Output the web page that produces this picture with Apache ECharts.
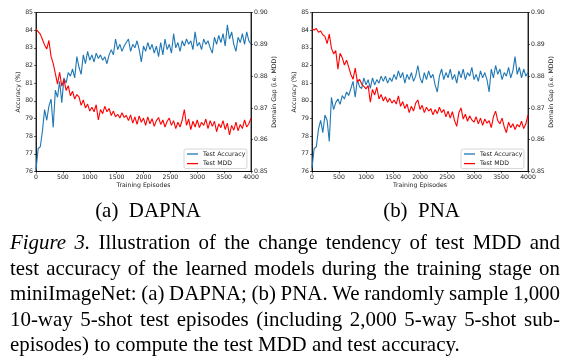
<!DOCTYPE html>
<html><head><meta charset="utf-8">
<script src="https://cdn.jsdelivr.net/npm/echarts@6/dist/echarts.min.js"></script>
<style>html,body{margin:0;padding:0;background:#fff}#c{width:568px;height:364px}</style>
</head><body><div id="c"></div>
<script>
// ---- data (one value every 40 training episodes, 0..4000) ----
const episodeStep = 40;
const dapnaAccuracy = [76.1,77.3,77.4,78.3,79.5,78.9,79.7,80.1,78.5,80.6,80.2,81.1,79.9,81.3,81.0,81.6,81.4,81.8,81.3,82.5,81.9,81.5,82.6,82.1,82.8,82.3,82.6,82.2,82.7,82.4,82.6,82.3,82.5,82.1,82.6,82.9,82.6,83.5,82.9,83.2,82.8,83.1,83.3,83.5,82.8,83.2,83.0,83.4,82.9,82.2,83.1,82.8,83.3,82.9,83.2,82.7,83.1,82.5,83.3,82.6,83.5,82.9,83.2,82.7,83.8,83.0,83.3,82.8,83.4,83.1,83.5,83.2,83.4,82.9,83.9,83.1,83.3,82.9,83.5,83.2,83.4,83.0,82.7,83.6,83.2,83.7,83.3,83.8,83.1,84.3,83.5,83.9,83.2,82.8,83.6,83.3,83.8,83.2,83.9,83.4,83.2];
const dapnaMDD = [0.8948,0.8940,0.8932,0.8915,0.8898,0.8885,0.8912,0.8862,0.8840,0.8808,0.8775,0.8812,0.8768,0.8790,0.8755,0.8770,0.8738,0.8752,0.8728,0.8742,0.8735,0.8708,0.8725,0.8700,0.8712,0.8690,0.8702,0.8688,0.8710,0.8662,0.8695,0.8682,0.8705,0.8688,0.8698,0.8676,0.8690,0.8672,0.8680,0.8668,0.8685,0.8670,0.8676,0.8660,0.8678,0.8652,0.8672,0.8648,0.8675,0.8655,0.8668,0.8645,0.8672,0.8650,0.8666,0.8642,0.8660,0.8670,0.8648,0.8662,0.8640,0.8658,0.8668,0.8645,0.8660,0.8635,0.8655,0.8640,0.8662,0.8695,0.8645,0.8665,0.8632,0.8658,0.8640,0.8662,0.8638,0.8655,0.8645,0.8665,0.8635,0.8660,0.8642,0.8658,0.8625,0.8650,0.8638,0.8660,0.8632,0.8652,0.8615,0.8645,0.8630,0.8655,0.8628,0.8648,0.8635,0.8662,0.8640,0.8650,0.8668];
const pnaAccuracy = [76.2,77.3,77.4,78.4,78.9,78.2,79.2,78.9,77.7,80.2,79.5,79.9,80.1,79.8,80.3,80.1,80.5,80.3,80.7,81.1,80.2,81.2,80.8,80.7,81.3,80.9,81.2,80.7,81.3,80.9,81.2,81.0,81.4,81.1,81.4,81.0,81.3,81.1,81.5,81.2,81.7,81.3,81.6,81.0,81.5,81.2,81.6,81.1,81.4,82.0,81.3,81.0,81.6,81.2,81.7,81.3,81.5,80.9,80.5,81.4,81.8,81.2,81.6,81.3,81.8,81.2,81.5,81.0,81.7,81.3,81.8,81.2,81.6,81.4,81.9,81.2,81.5,81.1,81.7,81.3,81.6,81.2,80.5,81.8,81.3,82.0,81.5,81.8,81.2,81.6,81.4,81.9,81.3,81.7,82.5,81.5,81.9,81.3,81.8,81.4,81.6];
const pnaMDD = [0.8948,0.8945,0.8950,0.8938,0.8942,0.8930,0.8925,0.8902,0.8932,0.8888,0.8870,0.8880,0.8822,0.8872,0.8858,0.8835,0.8850,0.8828,0.8805,0.8790,0.8825,0.8782,0.8790,0.8775,0.8768,0.8760,0.8770,0.8718,0.8758,0.8740,0.8765,0.8728,0.8742,0.8722,0.8735,0.8718,0.8730,0.8715,0.8725,0.8712,0.8738,0.8705,0.8720,0.8698,0.8712,0.8685,0.8705,0.8690,0.8715,0.8725,0.8695,0.8708,0.8685,0.8702,0.8690,0.8698,0.8678,0.8695,0.8682,0.8702,0.8685,0.8695,0.8672,0.8690,0.8668,0.8688,0.8660,0.8642,0.8685,0.8700,0.8665,0.8680,0.8658,0.8675,0.8662,0.8655,0.8672,0.8650,0.8668,0.8645,0.8665,0.8652,0.8660,0.8638,0.8672,0.8690,0.8660,0.8650,0.8668,0.8640,0.8622,0.8655,0.8638,0.8650,0.8632,0.8648,0.8640,0.8658,0.8635,0.8650,0.8678];
const seriesNames = ['Test Accuracy', 'Test MDD'];
const subCaptions = ['(a)  DAPNA', '(b)  PNA'];
const xAxisTitle = 'Training Episodes';
const leftAxisTitle = 'Accuracy (%)';
const rightAxisTitle = 'Domain Gap (i.e. MDD)';
const captionLines = [
  'Figure 3. Illustration of the change tendency of test MDD and',
  'test accuracy of the learned models during the training stage on',
  'miniImageNet: (a) DAPNA; (b) PNA. We randomly sample 1,000',
  '10-way 5-shot test episodes (including 2,000 5-way 5-shot sub-',
  'episodes) to compute the test MDD and test accuracy.'
];

// ---- build ----
const toPairs = arr => arr.map((v, i) => [i * episodeStep, v]);
const BLUE = '#1f77b4', RED = '#ff0000';
const SANS = 'DejaVu Sans', SERIF = 'Liberation Serif';
const FS = 6.2;
const grids = [
  {left: 36, top: 12.5, width: 215, height: 159},
  {left: 312, top: 12.5, width: 216, height: 159}
];
const axisText = {fontSize: FS, fontFamily: SANS, color: '#222'};
const xAxes = [], yAxes = [], series = [], legends = [];
const legendLeft = [184, 461];
[[dapnaAccuracy, dapnaMDD], [pnaAccuracy, pnaMDD]].forEach((d, g) => {
  xAxes.push({
    gridIndex: g, type: 'value', min: 0, max: 4000, interval: 500,
    axisLine: {show: true, onZero: false, lineStyle: {color: '#000', width: 0.8}},
    axisTick: {show: true, length: 2, lineStyle: {color: '#000', width: 0.6}},
    axisLabel: Object.assign({margin: 3, formatter: v => String(v)}, axisText),
    splitLine: {show: false},
    name: xAxisTitle, nameLocation: 'middle', nameGap: 10.5, nameTextStyle: axisText
  });
  yAxes.push({
    gridIndex: g, type: 'value', min: 76, max: 85, interval: 1, position: 'left',
    axisLine: {show: true, onZero: false, lineStyle: {color: '#000', width: 0.8}},
    axisTick: {show: true, length: 2, lineStyle: {color: '#000', width: 0.6}},
    axisLabel: Object.assign({margin: 3, formatter: v => String(v)}, axisText),
    splitLine: {show: false},
    name: leftAxisTitle, nameLocation: 'middle', nameGap: g === 0 ? 14.5 : 13.5, nameRotate: 90, nameTextStyle: axisText
  });
  yAxes.push({
    gridIndex: g, type: 'value', min: 0.85, max: 0.90, interval: 0.01, position: 'right',
    axisLine: {show: true, onZero: false, lineStyle: {color: '#000', width: 0.8}},
    axisTick: {show: true, length: 2, lineStyle: {color: '#000', width: 0.6}},
    axisLabel: Object.assign({margin: 3, formatter: v => v.toFixed(2)}, axisText),
    splitLine: {show: false},
    name: rightAxisTitle, nameLocation: 'middle', nameGap: 19.5, nameRotate: 90, nameTextStyle: axisText
  });
  series.push({
    name: seriesNames[0], type: 'line', xAxisIndex: g, yAxisIndex: g * 2,
    data: toPairs(d[0]), showSymbol: false, symbol: 'none',
    lineStyle: {color: BLUE, width: 1.1}, itemStyle: {color: BLUE}, z: 2
  });
  series.push({
    name: seriesNames[1], type: 'line', xAxisIndex: g, yAxisIndex: g * 2 + 1,
    data: toPairs(d[1]), showSymbol: false, symbol: 'none',
    lineStyle: {color: RED, width: 1.1}, itemStyle: {color: RED}, z: 3
  });
  legends.push({
    data: seriesNames, orient: 'vertical', left: legendLeft[g], top: 149,
    icon: 'rect', itemWidth: 11, itemHeight: 1.3, itemGap: 2.6,
    padding: [1.5, 1.5, 1.5, 3], borderColor: '#ccc', borderWidth: 0.8, borderRadius: 2,
    backgroundColor: 'rgba(255,255,255,0.85)', selectedMode: false,
    textStyle: {fontSize: FS, fontFamily: SANS, color: '#222', lineHeight: 7}
  });
});

// ---- caption text (justified, measured on a canvas) ----
const cv = document.createElement('canvas').getContext('2d');
const measure = (t, fs, italic) => { cv.font = (italic ? 'italic ' : '') + fs + 'px "' + SERIF + '"'; return cv.measureText(t).width; };
const lastW = 450;
const capFS = 20 * lastW / measure(captionLines[4], 20, false);
const graphics = [];
const textEl = (x, y, text, fs, italic, align) => ({
  type: 'text', x: x, y: y, silent: true,
  style: {text: text, fill: '#000', fontSize: fs, fontFamily: SERIF, fontStyle: italic ? 'italic' : 'normal',
          align: align || 'left', verticalAlign: 'middle', textAlign: align || 'left', textVerticalAlign: 'middle'}
});
const baselines = [251, 276.5, 302, 327.5, 353];
const xL = 10, xR = 560;
captionLines.forEach((line, li) => {
  const words = line.split(' ');
  const ital = words.map((w, i) => li === 0 && i < 2);
  const widths = words.map((w, i) => measure(w, capFS, ital[i]));
  const sum = widths.reduce((a, b) => a + b, 0);
  const gap = li < captionLines.length - 1 ? (xR - xL - sum) / (words.length - 1) : measure(' ', capFS, false);
  let x = xL;
  const y = baselines[li] - 0.34 * capFS;
  words.forEach((w, i) => {
    graphics.push(textEl(x, y, w, capFS, ital[i]));
    x += widths[i] + gap;
  });
});
const subCenters = [148, 421.5];
subCaptions.forEach((t, i) => {
  graphics.push(textEl(subCenters[i], 219 - 0.34 * capFS, t, capFS, false, 'center'));
});

const chart = echarts.init(document.getElementById('c'), null, {renderer: 'canvas'});
chart.setOption({
  animation: false,
  backgroundColor: '#fff',
  grid: grids.map(g => Object.assign({show: true, borderColor: '#000', borderWidth: 0.8, backgroundColor: 'transparent', containLabel: false}, g)),
  xAxis: xAxes, yAxis: yAxes, series: series, legend: legends,
  graphic: {elements: graphics}
});
</script></body></html>
